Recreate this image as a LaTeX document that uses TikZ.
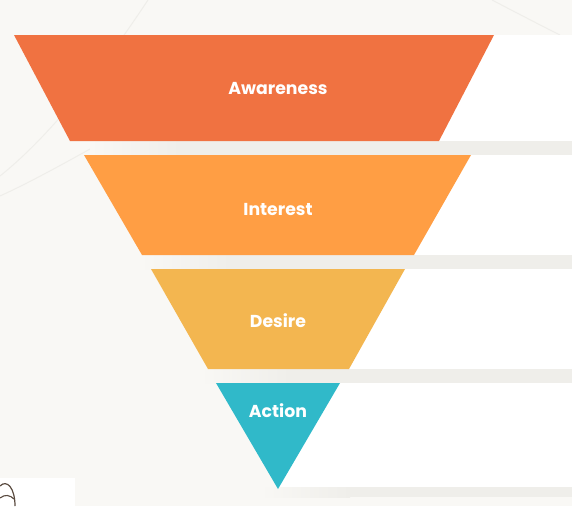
\documentclass[tikz,border=0pt]{standalone}
\usepackage{fontspec}
\setmainfont{Poppins}
\begin{document}
\begin{tikzpicture}[x=1pt,y=-1pt,
  lbl/.style={text=white,font=\bfseries\fontsize{17.3}{19}\selectfont,inner sep=0pt},
  bgarc/.style={draw=arcc,line width=1pt},
]
\definecolor{bgc}{HTML}{F9F8F5}
\definecolor{arcc}{HTML}{EFEEEA}
\definecolor{bandc}{HTML}{EFEEEA}
\definecolor{awc}{HTML}{F07241}
\definecolor{inc}{HTML}{FF9E44}
\definecolor{dec}{HTML}{F3B650}
\definecolor{acc}{HTML}{30B9C9}
\definecolor{brownc}{HTML}{5A4B40}
\useasboundingbox (0,0) rectangle (572,506);
\fill[bgc] (0,0) rectangle (572,506);
% faint background arcs
\draw[bgarc] (0,176) .. controls (45,140) and (95,80) .. (148,0);
\draw[bgarc] (0,196) .. controls (35,180) and (70,160) .. (110,138);
\draw[bgarc] (492,0) .. controls (515,12) and (540,25) .. (560,35);
% white boxes
\fill[white] (278,35) rectangle (572,141);
\fill[white] (278,155) rectangle (572,255);
\fill[white] (278,269) rectangle (572,369);
\fill[white] (278,383) rectangle (572,487);
% shadow bands
\foreach \ya/\yb/\xs in {141/155/90, 255/269/140, 369/383/200, 487/497/260}{
  \shade[left color=bgc,right color=bandc] (\xs,\ya) rectangle (\xs+90,\yb);
  \fill[bandc] (\xs+90,\ya) rectangle (572,\yb);
}
% funnel segments
\fill[awc] (14,35) -- (494,35) -- (439,141) -- (70,141) -- cycle;
\fill[inc] (84,155) -- (471,155) -- (414,255) -- (142,255) -- cycle;
\fill[dec] (151,269) -- (405,269) -- (349,369) -- (208,369) -- cycle;
\fill[acc] (216,383) -- (340,383) -- (278,489) -- cycle;
% labels
\node[lbl] (aw) at (278,88) {Awareness};
\node[lbl] (in) at (278,209) {Interest};
\node[lbl] (de) at (278,321) {Desire};
\node[lbl] (ac) at (278,411) {Action};
% bottom-left illustration fragment
\fill[white] (0,478) rectangle (75,506);
\draw[brownc,line width=1.2pt] (0,486) .. controls (7,479) and (15,488) .. (15,506);
\draw[brownc,line width=1.1pt] (0,498) .. controls (5,494) and (10,495) .. (14,499);
\end{tikzpicture}
\end{document}
